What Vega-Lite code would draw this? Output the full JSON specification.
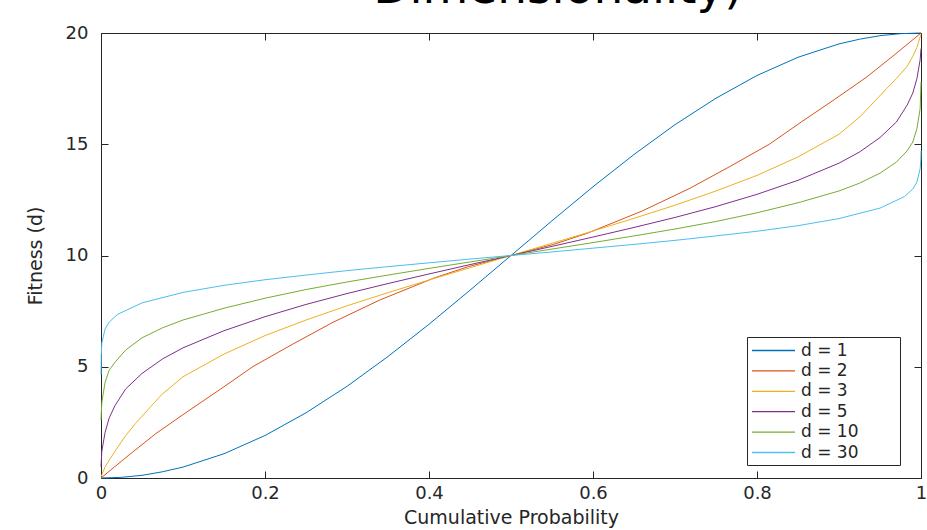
{
"$schema": "https://vega.github.io/schema/vega-lite/v6.json",
"width": 820, "height": 445,
"autosize": {"type": "none"},
"padding": {"left": 101, "top": 33, "right": 6, "bottom": 52},
"background": "#ffffff",
"title": {"text": "Dimensionality)", "fontSize": 47, "font": "DejaVu Sans", "fontWeight": "normal", "color": "#000000", "anchor": "middle", "baseline": "alphabetic", "offset": 0, "dy": 26, "dx": 47},
"data": {"values": [
{"s":"d = 1","p":0,"v":0},{"s":"d = 1","p":0.025,"v":0.03},{"s":"d = 1","p":0.05,"v":0.12},{"s":"d = 1","p":0.075,"v":0.28},{"s":"d = 1","p":0.1,"v":0.49},{"s":"d = 1","p":0.15,"v":1.09},{"s":"d = 1","p":0.2,"v":1.91},{"s":"d = 1","p":0.25,"v":2.93},{"s":"d = 1","p":0.3,"v":4.12},{"s":"d = 1","p":0.35,"v":5.46},{"s":"d = 1","p":0.4,"v":6.91},{"s":"d = 1","p":0.45,"v":8.44},{"s":"d = 1","p":0.5,"v":10},{"s":"d = 1","p":0.55,"v":11.56},{"s":"d = 1","p":0.6,"v":13.09},{"s":"d = 1","p":0.65,"v":14.54},{"s":"d = 1","p":0.7,"v":15.88},{"s":"d = 1","p":0.75,"v":17.07},{"s":"d = 1","p":0.8,"v":18.09},{"s":"d = 1","p":0.85,"v":18.91},{"s":"d = 1","p":0.9,"v":19.51},{"s":"d = 1","p":0.925,"v":19.72},{"s":"d = 1","p":0.95,"v":19.88},{"s":"d = 1","p":0.975,"v":19.97},{"s":"d = 1","p":1,"v":20},
{"s":"d = 2","p":0,"v":0},{"s":"d = 2","p":0.033,"v":1},{"s":"d = 2","p":0.067,"v":2},{"s":"d = 2","p":0.106,"v":3},{"s":"d = 2","p":0.146,"v":4},{"s":"d = 2","p":0.185,"v":5},{"s":"d = 2","p":0.233,"v":6},{"s":"d = 2","p":0.283,"v":7},{"s":"d = 2","p":0.34,"v":8},{"s":"d = 2","p":0.407,"v":9},{"s":"d = 2","p":0.448,"v":9.5},{"s":"d = 2","p":0.5,"v":10},{"s":"d = 2","p":0.552,"v":10.5},{"s":"d = 2","p":0.593,"v":11},{"s":"d = 2","p":0.66,"v":12},{"s":"d = 2","p":0.717,"v":13},{"s":"d = 2","p":0.767,"v":14},{"s":"d = 2","p":0.815,"v":15},{"s":"d = 2","p":0.854,"v":16},{"s":"d = 2","p":0.894,"v":17},{"s":"d = 2","p":0.933,"v":18},{"s":"d = 2","p":0.967,"v":19},{"s":"d = 2","p":1,"v":20},
{"s":"d = 3","p":0,"v":0.05},{"s":"d = 3","p":0.005,"v":0.5},{"s":"d = 3","p":0.01,"v":0.8},{"s":"d = 3","p":0.017,"v":1.2},{"s":"d = 3","p":0.03,"v":1.9},{"s":"d = 3","p":0.042,"v":2.45},{"s":"d = 3","p":0.074,"v":3.75},{"s":"d = 3","p":0.1,"v":4.55},{"s":"d = 3","p":0.15,"v":5.57},{"s":"d = 3","p":0.2,"v":6.4},{"s":"d = 3","p":0.25,"v":7.1},{"s":"d = 3","p":0.3,"v":7.74},{"s":"d = 3","p":0.35,"v":8.33},{"s":"d = 3","p":0.4,"v":8.9},{"s":"d = 3","p":0.45,"v":9.45},{"s":"d = 3","p":0.5,"v":10},{"s":"d = 3","p":0.55,"v":10.55},{"s":"d = 3","p":0.6,"v":11.1},{"s":"d = 3","p":0.65,"v":11.67},{"s":"d = 3","p":0.7,"v":12.26},{"s":"d = 3","p":0.75,"v":12.9},{"s":"d = 3","p":0.8,"v":13.6},{"s":"d = 3","p":0.85,"v":14.43},{"s":"d = 3","p":0.9,"v":15.45},{"s":"d = 3","p":0.926,"v":16.25},{"s":"d = 3","p":0.958,"v":17.5},{"s":"d = 3","p":0.97,"v":17.95},{"s":"d = 3","p":0.983,"v":18.5},{"s":"d = 3","p":0.99,"v":18.95},{"s":"d = 3","p":0.995,"v":19.35},{"s":"d = 3","p":1,"v":19.95},
{"s":"d = 5","p":0,"v":0.5},{"s":"d = 5","p":0.001,"v":1.2},{"s":"d = 5","p":0.005,"v":2.05},{"s":"d = 5","p":0.01,"v":2.7},{"s":"d = 5","p":0.017,"v":3.25},{"s":"d = 5","p":0.03,"v":4.0},{"s":"d = 5","p":0.05,"v":4.7},{"s":"d = 5","p":0.075,"v":5.35},{"s":"d = 5","p":0.1,"v":5.85},{"s":"d = 5","p":0.15,"v":6.62},{"s":"d = 5","p":0.2,"v":7.25},{"s":"d = 5","p":0.25,"v":7.8},{"s":"d = 5","p":0.3,"v":8.29},{"s":"d = 5","p":0.35,"v":8.74},{"s":"d = 5","p":0.4,"v":9.17},{"s":"d = 5","p":0.45,"v":9.59},{"s":"d = 5","p":0.5,"v":10},{"s":"d = 5","p":0.55,"v":10.41},{"s":"d = 5","p":0.6,"v":10.83},{"s":"d = 5","p":0.65,"v":11.26},{"s":"d = 5","p":0.7,"v":11.71},{"s":"d = 5","p":0.75,"v":12.2},{"s":"d = 5","p":0.8,"v":12.75},{"s":"d = 5","p":0.85,"v":13.38},{"s":"d = 5","p":0.9,"v":14.15},{"s":"d = 5","p":0.925,"v":14.65},{"s":"d = 5","p":0.95,"v":15.3},{"s":"d = 5","p":0.97,"v":16.0},{"s":"d = 5","p":0.983,"v":16.75},{"s":"d = 5","p":0.99,"v":17.3},{"s":"d = 5","p":0.995,"v":17.95},{"s":"d = 5","p":0.999,"v":18.8},{"s":"d = 5","p":1,"v":19.3},
{"s":"d = 10","p":0,"v":2.6},{"s":"d = 10","p":0.001,"v":3.4},{"s":"d = 10","p":0.005,"v":4.3},{"s":"d = 10","p":0.01,"v":4.85},{"s":"d = 10","p":0.017,"v":5.2},{"s":"d = 10","p":0.03,"v":5.75},{"s":"d = 10","p":0.05,"v":6.3},{"s":"d = 10","p":0.075,"v":6.75},{"s":"d = 10","p":0.1,"v":7.1},{"s":"d = 10","p":0.15,"v":7.63},{"s":"d = 10","p":0.2,"v":8.08},{"s":"d = 10","p":0.25,"v":8.47},{"s":"d = 10","p":0.3,"v":8.81},{"s":"d = 10","p":0.35,"v":9.12},{"s":"d = 10","p":0.4,"v":9.42},{"s":"d = 10","p":0.45,"v":9.71},{"s":"d = 10","p":0.5,"v":10},{"s":"d = 10","p":0.55,"v":10.29},{"s":"d = 10","p":0.6,"v":10.58},{"s":"d = 10","p":0.65,"v":10.88},{"s":"d = 10","p":0.7,"v":11.19},{"s":"d = 10","p":0.75,"v":11.53},{"s":"d = 10","p":0.8,"v":11.92},{"s":"d = 10","p":0.85,"v":12.37},{"s":"d = 10","p":0.9,"v":12.9},{"s":"d = 10","p":0.925,"v":13.25},{"s":"d = 10","p":0.95,"v":13.7},{"s":"d = 10","p":0.97,"v":14.2},{"s":"d = 10","p":0.983,"v":14.7},{"s":"d = 10","p":0.99,"v":15.1},{"s":"d = 10","p":0.995,"v":15.7},{"s":"d = 10","p":0.999,"v":16.6},{"s":"d = 10","p":1,"v":17.8},
{"s":"d = 30","p":0,"v":4.63},{"s":"d = 30","p":0.0003,"v":5.5},{"s":"d = 30","p":0.001,"v":6.07},{"s":"d = 30","p":0.005,"v":6.7},{"s":"d = 30","p":0.01,"v":7.01},{"s":"d = 30","p":0.02,"v":7.35},{"s":"d = 30","p":0.05,"v":7.87},{"s":"d = 30","p":0.1,"v":8.34},{"s":"d = 30","p":0.15,"v":8.66},{"s":"d = 30","p":0.2,"v":8.91},{"s":"d = 30","p":0.25,"v":9.12},{"s":"d = 30","p":0.3,"v":9.32},{"s":"d = 30","p":0.35,"v":9.5},{"s":"d = 30","p":0.4,"v":9.67},{"s":"d = 30","p":0.45,"v":9.84},{"s":"d = 30","p":0.5,"v":10},{"s":"d = 30","p":0.55,"v":10.16},{"s":"d = 30","p":0.6,"v":10.33},{"s":"d = 30","p":0.65,"v":10.5},{"s":"d = 30","p":0.7,"v":10.68},{"s":"d = 30","p":0.75,"v":10.88},{"s":"d = 30","p":0.8,"v":11.09},{"s":"d = 30","p":0.85,"v":11.34},{"s":"d = 30","p":0.9,"v":11.66},{"s":"d = 30","p":0.95,"v":12.13},{"s":"d = 30","p":0.98,"v":12.65},{"s":"d = 30","p":0.99,"v":12.99},{"s":"d = 30","p":0.995,"v":13.3},{"s":"d = 30","p":0.999,"v":13.9},{"s":"d = 30","p":0.9997,"v":14.3},{"s":"d = 30","p":1,"v":14.7}
]},
"layer": [
{"mark": {"type": "line", "strokeWidth": 1},
 "encoding": {
  "x": {"field": "p", "type": "quantitative", "scale": {"domain": [0, 1], "nice": false, "zero": false},
        "axis": {"orient": "bottom", "values": [0, 0.2, 0.4, 0.6, 0.8, 1], "format": "~g", "labelFlush": false, "tickSize": -7, "labelPadding": 13, "title": "Cumulative Probability", "titlePadding": 6}},
  "y": {"field": "v", "type": "quantitative", "scale": {"domain": [0, 20], "nice": false, "zero": false},
        "axis": {"orient": "left", "values": [0, 5, 10, 15, 20], "tickSize": -7, "labelPadding": 20, "title": "Fitness (d)", "titlePadding": 20}},
  "color": {"field": "s", "type": "nominal",
            "scale": {"domain": ["d = 1", "d = 2", "d = 3", "d = 5", "d = 10", "d = 30"], "range": ["#0072BD", "#D95319", "#EDB120", "#7E2F8E", "#77AC30", "#4DBEEE"]},
            "legend": {"orient": "none", "legendX": 646, "legendY": 304, "title": null, "symbolType": "M-1,0H4.06", "symbolSize": 289, "symbolStrokeWidth": 1.3, "symbolFillColor": "transparent", "labelOffset": 31, "labelFontSize": 17, "labelFont": "DejaVu Sans", "labelColor": "#262626", "labelExpr": "datum.label + '\u2800\u2800\u2800'", "labelLimit": 300, "strokeColor": "#262626", "fillColor": "#ffffff", "padding": 4, "rowPadding": 2.4}}
 }},
{"mark": {"type": "line", "opacity": 0},
 "encoding": {
  "x": {"field": "p", "type": "quantitative", "axis": {"orient": "top", "values": [0, 0.2, 0.4, 0.6, 0.8, 1], "labels": false, "title": null, "tickSize": -7}},
  "y": {"field": "v", "type": "quantitative", "axis": {"orient": "right", "values": [0, 5, 10, 15, 20], "labels": false, "title": null, "tickSize": -7}},
  "detail": {"field": "s", "type": "nominal"}
 }}
],
"resolve": {"axis": {"x": "independent", "y": "independent"}},
"config": {
 "view": {"stroke": null},
 "axis": {"grid": false, "domainColor": "#262626", "tickColor": "#262626", "labelColor": "#262626", "titleColor": "#262626", "domainWidth": 1, "tickWidth": 1, "labelFont": "DejaVu Sans", "titleFont": "DejaVu Sans", "labelFontSize": 18, "titleFontSize": 19, "titleFontWeight": "normal"}
}
}
